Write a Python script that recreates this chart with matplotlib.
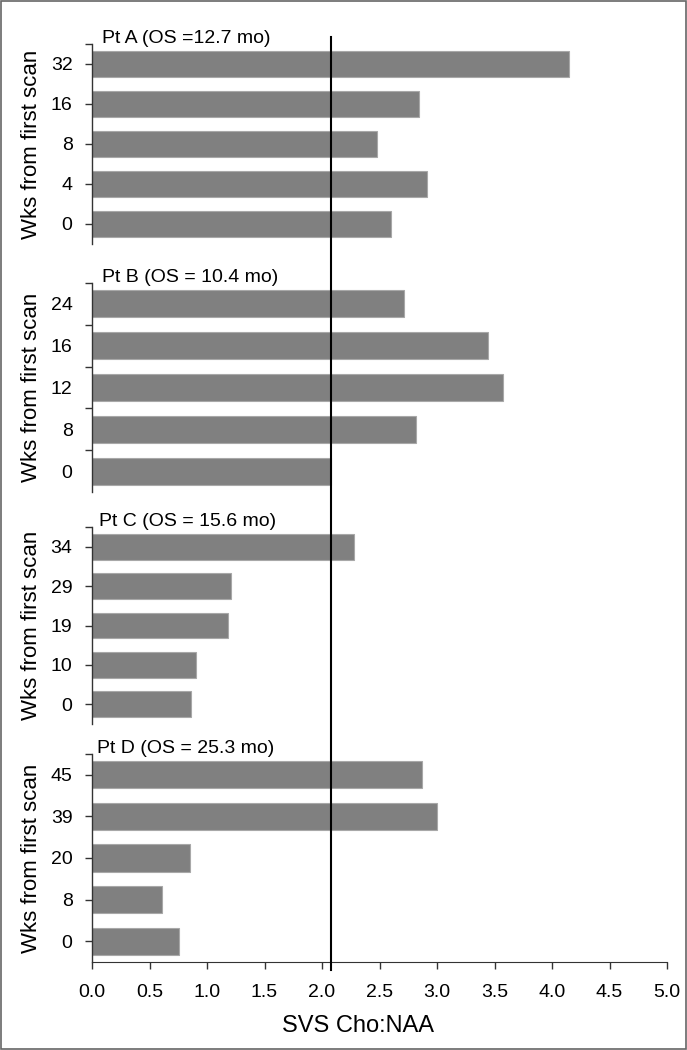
import matplotlib.pyplot as plt
import matplotlib.transforms as mtransforms
from matplotlib.ticker import FixedLocator

plt.rcParams["font.family"] = ["Liberation Sans", "DejaVu Sans"]
plt.rcParams["font.size"] = 14

# weeks from first scan (bottom to top) and SVS Cho:NAA per patient
weeks_a = ["0", "4", "8", "16", "32"]
ratio_a = [2.60, 2.91, 2.48, 2.84, 4.15]
weeks_b = ["0", "8", "12", "16", "24"]
ratio_b = [2.08, 2.82, 3.57, 3.44, 2.71]
weeks_c = ["0", "10", "19", "29", "34"]
ratio_c = [0.86, 0.90, 1.18, 1.21, 2.28]
weeks_d = ["0", "8", "20", "39", "45"]
ratio_d = [0.76, 0.61, 0.85, 3.00, 2.87]

titles = ["Pt A (OS =12.7 mo)", "Pt B (OS = 10.4 mo)",
          "Pt C (OS = 15.6 mo)", "Pt D (OS = 25.3 mo)"]
threshold = 2.08
x_ticks = [0.0, 0.5, 1.0, 1.5, 2.0, 2.5, 3.0, 3.5, 4.0, 4.5, 5.0]

W, H = 687, 1050
fig = plt.figure(figsize=(W / 100, H / 100), dpi=100)

# panel pixel extents: (top, bottom), title x position
panels = [(44, 244, 102), (283, 492, 102), (527, 724, 99), (754, 962, 97)]
left_px, right_px = 92, 667
data = [(weeks_a, ratio_a), (weeks_b, ratio_b), (weeks_c, ratio_c), (weeks_d, ratio_d)]

axes = []
for i, ((top, bot, tx), (wk, val)) in enumerate(zip(panels, data)):
    ax = fig.add_axes([left_px / W, 1 - bot / H, (right_px - left_px) / W, (bot - top) / H])
    pos = list(range(len(wk)))
    ax.barh(pos, val, height=0.65, color="#808080", edgecolor="#a8a8a8", linewidth=0.8, zorder=2)
    ax.set_xlim(0, 5)
    ax.set_ylim(-0.5, len(wk) - 0.5)
    for s in ["top", "right"]:
        ax.spines[s].set_visible(False)
    ax.spines["left"].set_color("#333333")
    ax.spines["left"].set_linewidth(1.0)
    ax.set_yticks(pos)
    ax.set_yticklabels(wk)
    if i == 1:
        # ticks between categories
        ax.yaxis.set_minor_locator(FixedLocator([p + 0.5 for p in pos]))
        ax.tick_params(axis="y", which="major", length=0, pad=14)
    else:
        ax.yaxis.set_minor_locator(FixedLocator([len(wk) - 0.5]))
        ax.tick_params(axis="y", which="major", length=5, width=1, color="#333333", pad=9)
    ax.tick_params(axis="y", which="minor", length=5, width=1, color="#333333")
    ax.tick_params(axis="y", labelsize=14)
    ax.set_ylabel("Wks from first scan", fontsize=16)
    ax.yaxis.set_label_coords(-0.087, 0.5)
    ax.text((tx - left_px) / (right_px - left_px), 1.005, titles[i],
            transform=ax.transAxes, ha="left", va="baseline", fontsize=14)
    if i < 3:
        ax.spines["bottom"].set_visible(False)
        ax.set_xticks([])
    else:
        ax.spines["bottom"].set_color("#333333")
        ax.set_xticks(x_ticks)
        ax.set_xticklabels([f"{t:.1f}" for t in x_ticks])
        ax.tick_params(axis="x", length=5, width=1, color="#333333", pad=11, labelsize=14)
        ax.set_xlabel("SVS Cho:NAA", fontsize=17)
        ax.xaxis.set_label_coords(0.463, -0.255)
    axes.append(ax)

# threshold line spanning all panels
trans = mtransforms.blended_transform_factory(axes[-1].transData, fig.transFigure)
fig.add_artist(plt.Line2D([threshold, threshold], [1 - 37 / H, 1 - 970 / H],
                          transform=trans, color="black", linewidth=1.5, zorder=5))

# thin frame around the figure
fig.add_artist(plt.Rectangle((0.001, 0.001), 0.998, 0.998, transform=fig.transFigure,
                             fill=False, edgecolor="#666666", linewidth=1.2))

fig.savefig("out.png", dpi=100)
